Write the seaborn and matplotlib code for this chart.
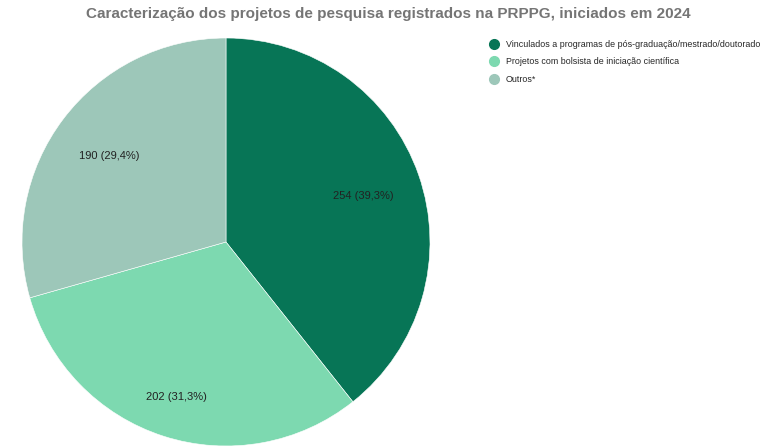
import matplotlib
matplotlib.use("Agg")
import matplotlib.pyplot as plt
import seaborn as sns
import numpy as np
from matplotlib.lines import Line2D

sns.set_theme(style="white")
plt.rcParams["font.family"] = ["Liberation Sans", "DejaVu Sans"]

categories = [
    "Vinculados a programas de pós-graduação/mestrado/doutorado",
    "Projetos com bolsista de iniciação científica",
    "Outros*",
]
values = [254, 202, 190]
colors = ["#077556", "#7dd9b0", "#9dc7b9"]
label_dist = [0.715, 0.79, 0.715]

fig = plt.figure(figsize=(7.76, 4.48), dpi=100)
ax = fig.add_axes([22 / 776, 2 / 448, 408 / 776, 408 / 448])

total = sum(values)
wedges, _ = ax.pie(values, colors=colors, startangle=90, counterclock=False,
                   radius=1.0, wedgeprops=dict(linewidth=0.4, edgecolor="white"))
ax.set_xlim(-1, 1)
ax.set_ylim(-1, 1)
ax.set_aspect("equal")
ax.axis("off")

for w, v, d in zip(wedges, values, label_dist):
    ang = np.deg2rad((w.theta1 + w.theta2) / 2)
    pct = f"{v / total * 100:.1f}".replace(".", ",")
    ax.text(d * np.cos(ang), d * np.sin(ang) - 0.01, f"{v} ({pct}%)",
            ha="center", va="center", fontsize=8, color="#222222")

fig.text(0.5, 1 - 14 / 448, "Caracterização dos projetos de pesquisa registrados na PRPPG, iniciados em 2024",
         ha="center", va="center", fontsize=11, fontweight="bold", color="#757575")

handles = [Line2D([0], [0], marker="o", linestyle="", markersize=7,
                  markerfacecolor=c, markeredgecolor=c) for c in colors]
fig.legend(handles, categories, loc="upper left", bbox_to_anchor=(490 / 776, 1 - 40 / 448),
           frameon=False, fontsize=6.4, handletextpad=0.75, labelspacing=0.95,
           handlelength=1.0, borderaxespad=0, borderpad=0)

fig.savefig("out.png", dpi=100)
